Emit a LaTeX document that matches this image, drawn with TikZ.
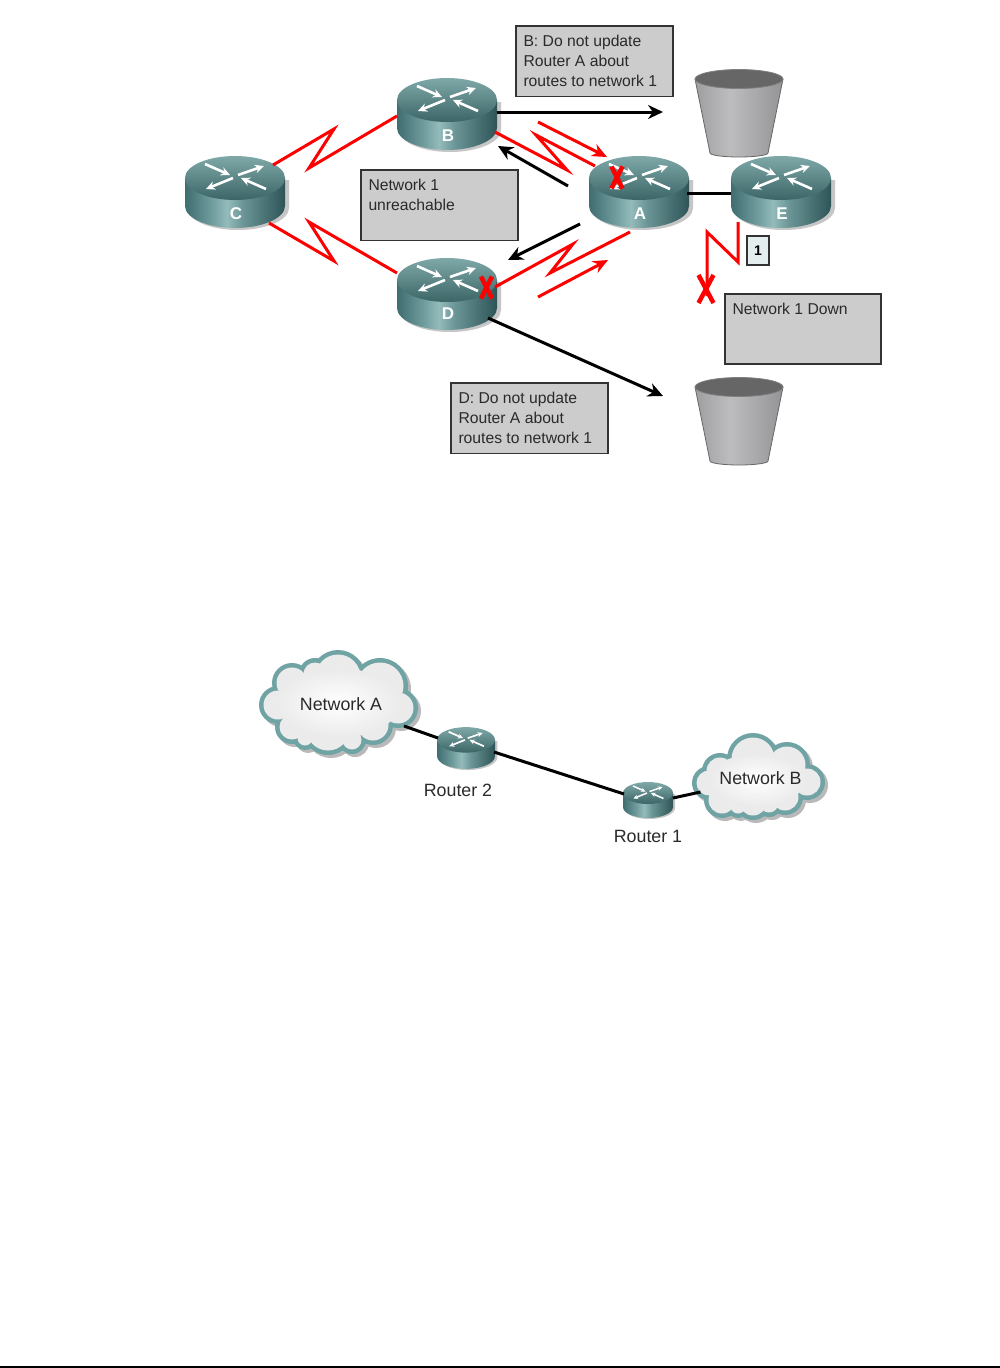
\documentclass[tikz,border=0pt]{standalone}
\usepackage{fontspec}
\setmainfont{Liberation Sans}
\usetikzlibrary{arrows.meta,calc}
\definecolor{topL}{HTML}{7FA8A8}
\definecolor{topD}{HTML}{3C6567}
\definecolor{rC}{HTML}{94BBBB}
\definecolor{boxfill}{HTML}{CCCCCC}
\definecolor{boxline}{HTML}{333333}
\definecolor{txt}{HTML}{2A2A2A}
\definecolor{linkred}{HTML}{FF0000}
\definecolor{cloudedge}{HTML}{6FA3A4}
\definecolor{cloudfill}{HTML}{EBEBEB}
\pgfdeclarehorizontalshading{routerside}{100bp}{rgb(0bp)=(.247,.427,.439);rgb(25bp)=(.247,.427,.439);rgb(38bp)=(.435,.608,.612);rgb(46bp)=(.58,.733,.733);rgb(54bp)=(.416,.584,.588);rgb(75bp)=(.18,.329,.337);rgb(100bp)=(.18,.329,.337)}
\pgfdeclarehorizontalshading{bucketside}{100bp}{rgb(0bp)=(.62,.62,.63);rgb(25bp)=(.62,.62,.63);rgb(45bp)=(.74,.74,.75);rgb(75bp)=(.58,.58,.59);rgb(100bp)=(.58,.58,.59)}
\tikzset{
  routerbox/.style={inner sep=0pt,outer sep=0pt,rectangle},
  routerletter/.style={text=white,font=\fontsize{17}{17}\selectfont\bfseries,inner sep=0pt},
  txtbox/.style={draw=boxline,fill=boxfill,line width=1.3pt,inner xsep=7.5pt,inner ysep=9.5pt,anchor=north west,text=txt,font=\fontsize{15.7}{20}\selectfont,outer sep=0pt},
  plain/.style={text=txt,font=\fontsize{17.8}{20}\selectfont,inner sep=0pt},
  redlink/.style={draw=linkred,line width=3pt,line join=miter,miter limit=10},
  redarrow/.style={draw=linkred,line width=3pt,-{Stealth[length=15pt,width=13pt]}},
  blackarrow/.style={draw=black,line width=3pt,-{Stealth[length=15pt,width=14pt]}},
  blackline/.style={draw=black,line width=3pt},
  crossmark/.style={draw=linkred,line width=4.5pt},
}
% name, cx, cy, scale, arrow width
\newcommand{\routerpic}[5]{%
  \node[routerbox,minimum width=#4*100pt,minimum height=#4*72pt] (#1) at (#2,#3) {};
  \begin{scope}[shift={(#2,#3)},scale=#4]
    \path[fill=gray!45,draw=none] (-48,-12) -- (-48,16) arc[start angle=180,end angle=0,x radius=51,y radius=22] -- (54,-12) -- cycle;
    \path[shading=routerside] (-50,-14) -- (-50,14) arc[start angle=180,end angle=0,x radius=50,y radius=22] -- (50,-14) -- cycle;
    \path[top color=topL,bottom color=topD,shading angle=0] (0,-14) ellipse[x radius=50,y radius=22];
    \foreach \xa/\ya/\xb/\yb in {-30/-28/-5/-17,3/-17/29/-26,-2/-14/-29/-3,31/-3/6/-14}
      \draw[white,line width=#5,-{Stealth[length=#4*9pt,width=#4*8.5pt]}] (\xa,\ya) -- (\xb,\yb);
  \end{scope}}
% name, cx, topy
\newcommand{\bucketpic}[3]{%
  \begin{scope}[shift={(#2,#3)}]
    \path[shading=bucketside,draw=gray!80!black,line width=.8pt] (-44,0) -- (-29,74) arc[start angle=180,end angle=0,x radius=29,y radius=4] -- (44,0) -- cycle;
    \path[fill=black!60,draw=black!50,line width=.8pt] (0,0) ellipse[x radius=44,y radius=9.5];
  \end{scope}
  \coordinate (#1) at (#2,#3);}
% list of circles x/y/r
\newcommand{\cloudpic}[2]{%
  \foreach \x/\y/\r in {#1} \path[fill=gray!55] (\x+3,\y+3) circle[radius=\r+2];
  \foreach \x/\y/\r in {#1} \path[fill=cloudedge] (\x,\y) circle[radius=\r+2];
  \foreach \x/\y/\r in {#1} \path[fill=cloudfill] (\x,\y) circle[radius=\r-2.5];
  #2}
% x, y, half width, half height
\newcommand{\xmark}[4]{%
  \draw[crossmark] (#1-#3,#2-#4) -- (#1+#3,#2+#4);
  \draw[crossmark] (#1+#3,#2-#4) -- (#1-#3,#2+#4);}
\begin{document}
\begin{tikzpicture}[x=1pt,y=1pt,yscale=-1]
\useasboundingbox (0,0) rectangle (1000,1368);
\path[fill=white] (0,0) rectangle (1000,1368);
\path[fill=black] (0,1366.3) rectangle (1000,1368);

% buckets
\bucketpic{bucketa}{739}{79}
\bucketpic{bucketb}{739}{387}
\coordinate (tobucketa) at (663,112);
\coordinate (tobucketb) at (663,396);
\coordinate (startup) at (538,122);
\coordinate (startdown) at (538,297);
\coordinate (lostend) at (707,296);

% routers
\routerpic{c}{235}{192}{1}{2.6pt}
\routerpic{b}{447}{114}{1}{2.6pt}
\routerpic{a}{639}{192}{1}{2.6pt}
\routerpic{e}{781}{192}{1}{2.6pt}
\routerpic{d}{447}{294}{1}{2.6pt}
\node[routerletter] (lc) at (236,214) {C};
\node[routerletter] (lb) at (448,136) {B};
\node[routerletter] (la) at (640,214) {A};
\node[routerletter] (le) at (782,214) {E};
\node[routerletter] (ld) at (448,314) {D};

% red links
\draw[redlink] ($(c.center)+(38,-27)$) -- (334,129) -- (309,168) -- ($(b.center)+(-50,2)$);
\draw[redlink] ($(c.center)+(34,31)$) -- (334,261) -- (309,222) -- ($(d.center)+(-50,-21)$);
\draw[redlink] ($(b.center)+(48,18)$) -- (567,170) -- (536,135) -- ($(a.center)+(-44,-26)$);
\draw[redlink] ($(a.center)+(-9,40)$) -- (550,273) -- (573,244) -- ($(d.center)+(48,-7)$);
\draw[redlink] ($(e.center)+(-43,30)$) -- (738,262) -- (707,232) -- (lostend);

% arrows
\draw[redarrow] (startup) -- ($(a.center)+(-32,-35)$);
\draw[redarrow] (startdown) -- ($(a.center)+(-31,68)$);
\draw[blackarrow] ($(b.center)+(50,-2)$) -- (tobucketa);
\draw[blackarrow] ($(d.center)+(41,24)$) -- (tobucketb);
\draw[blackarrow] ($(a.center)+(-71,-6)$) -- ($(b.center)+(51,32)$);
\draw[blackarrow] ($(a.center)+(-59,32)$) -- ($(d.center)+(61,-34)$);
\draw[blackline] ($(a.center)+(48,1)$) -- ($(e.center)+(-50,1)$);

% cross marks
\xmark{617}{177.5}{5.5}{11}
\xmark{486.5}{287.5}{5.5}{11}
\xmark{706}{289}{7.5}{14}

% text boxes
\node[txtbox] (boxb) at (516,26) {\parbox[t][51.5pt][t]{142pt}{B: Do not update\\Router A about\\routes to network 1}};
\node[txtbox] (boxn) at (361,170) {\parbox[t][51.5pt][t]{142pt}{Network 1\\unreachable}};
\node[txtbox] (boxdown) at (725,294) {\parbox[t][51pt][t]{141pt}{Network 1 Down}};
\node[txtbox] (boxd) at (451,383) {\parbox[t][51.5pt][t]{142pt}{D: Do not update\\Router A about\\routes to network 1}};
\node[draw=boxline,fill=rC!25,line width=1.2pt,minimum width=22pt,minimum height=29pt,inner sep=0pt,outer sep=0pt,text=black,font=\fontsize{14}{14}\selectfont\bfseries] (one) at (758,250.5) {1};

% lower diagram
\cloudpic{338/677/25,292/683/18,278/705/17,292/727/15,328/729/24,373/725/18,398/708/18,380/686/26,338/703/42,310/703/30,370/703/30,315/674/14,305/738/10,352/740/12}{%
  \path[inner color=white,outer color=cloudfill] (338,703) ellipse[x radius=62,y radius=34];}
\cloudpic{753/759/24,720/771/16,709/783/15,722/800/16,753/802/16,785/797/16,807/782/16,787/765/21,755/780/30,730/782/20,785/782/20,738/806/10,769/803/12}{%
  \path[inner color=white,outer color=cloudfill] (757,780) ellipse[x radius=48,y radius=26];}
\node[plain] (neta) at (341,704) {Network A};
\node[plain] (netb) at (760.5,778) {Network B};
\routerpic{rtwo}{466}{748}{.58}{1.7pt}
\routerpic{rone}{648}{800}{.5}{1.5pt}
\node[plain] (ltwo) at (458,790) {Router 2};
\node[plain] (lone) at (648,836) {Router 1};
\draw[blackline] ($(neta.center)+(63,22)$) -- ($(rtwo.center)+(-28,-10)$);
\draw[blackline] ($(rtwo.center)+(28,4)$) -- ($(rone.center)+(-24,-6)$);
\draw[blackline] ($(rone.center)+(25,-2)$) -- ($(netb.center)+(-60,14)$);
\end{tikzpicture}
\end{document}
